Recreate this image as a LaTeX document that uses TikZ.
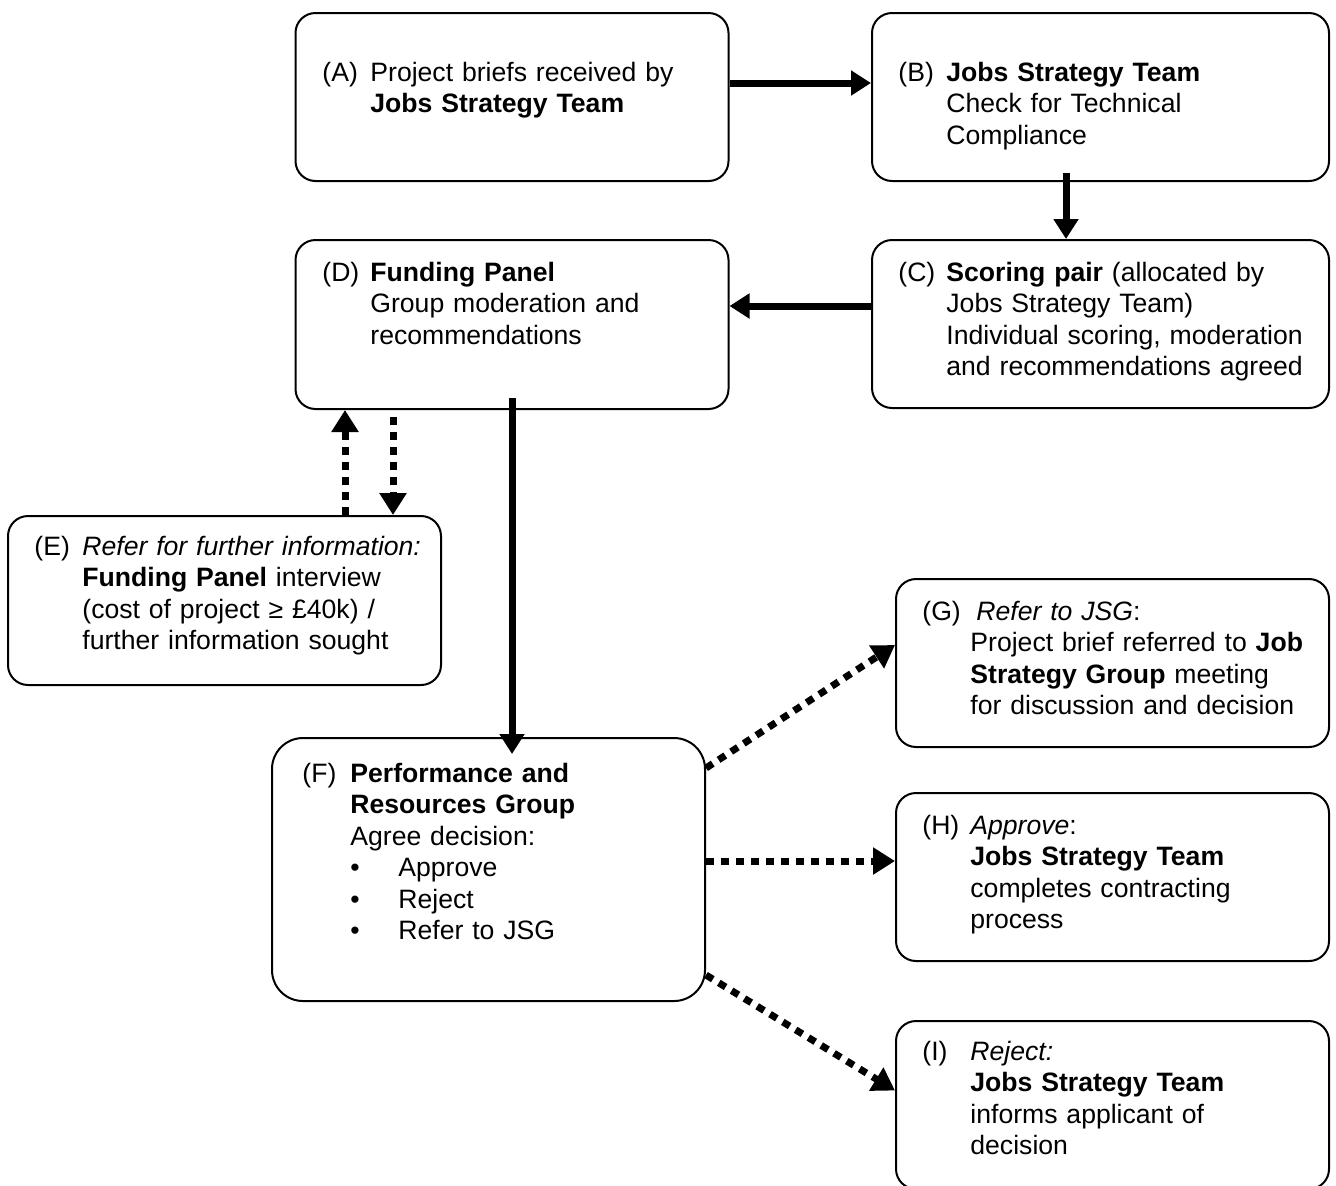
\documentclass[tikz,border=0pt]{standalone}
\usepackage{fontspec}
\setmainfont{Liberation Sans}
\usetikzlibrary{arrows.meta,calc}

\begin{document}
\begin{tikzpicture}[x=0.5pt, y=-0.5pt,
    box/.style={draw, line width=1pt, rounded corners=10pt, minimum width=216.5pt, minimum height=84pt, inner sep=0pt},
    lbl/.style={anchor=base west, inner sep=0pt, font=\fontsize{13.3}{15.75}\selectfont},
    txt/.style={anchor=base west, inner sep=0pt, text width=200pt, align=left, font=\fontsize{13.3}{15.75}\selectfont},
    solidarrow/.style={line width=3.5pt, -{Triangle[length=10pt,width=12pt]}},
    dotarrow/.style={line width=3.5pt, dash pattern=on 4pt off 3.5pt, -{Triangle[length=11pt,width=13pt]}}
]
\useasboundingbox (0,0) rectangle (1336,1185);

% -------- Cajas --------
\node[box] (A) at (512,97) {};
\node[box, minimum width=228.5pt] (B) at (1100.5,97) {};
\node[box, minimum width=228.5pt] (C) at (1100.5,324) {};
\node[box, minimum height=84.5pt] (D) at (512,324.5) {};
\node[box, minimum height=84.5pt] (E) at (224.5,600.5) {};
\node[box, minimum height=131.5pt, rounded corners=15.5pt] (F) at (488.5,869.5) {};
\node[box] (G) at (1112.5,663) {};
\node[box] (H) at (1112.5,877) {};
\node[box] (I) at (1112.5,1105) {};

% -------- Textos --------
\node[lbl] (lA) at (322,81) {(A)};
\node[txt] (tA) at (370,81) {Project briefs received by\\ \textbf{Jobs Strategy Team}};

\node[lbl] (lB) at (898,81) {(B)};
\node[txt] (tB) at (946,81) {\textbf{Jobs Strategy Team}\\ Check for Technical\\ Compliance};

\node[lbl] (lC) at (898,281) {(C)};
\node[txt] (tC) at (946,281) {\textbf{Scoring pair} (allocated by\\ Jobs Strategy Team)\\ Individual scoring, moderation\\ and recommendations agreed};

\node[lbl] (lD) at (322,281) {(D)};
\node[txt] (tD) at (370,281) {\textbf{Funding Panel}\\ Group moderation and\\ recommendations};

\node[lbl] (lE) at (34,555) {(E)};
\node[txt] (tE) at (82,555) {\textit{Refer for further information:}\\ \textbf{Funding Panel} interview\\ (cost of project ≥ £40k) /\\ further information sought};

\node[lbl] (lF) at (302,782) {(F)};
\node[txt] (tF) at (350,782) {\textbf{Performance and}\\ \textbf{Resources Group}\\ Agree decision:\\
  \makebox[24pt][l]{\textbullet}Approve\\
  \makebox[24pt][l]{\textbullet}Reject\\
  \makebox[24pt][l]{\textbullet}Refer to JSG};

\node[lbl] (lG) at (922,620) {(G)};
\node[txt] (tG) at (970,620) {\hspace*{3pt}\textit{Refer to JSG}:\\ Project brief referred to \textbf{Job}\\ \textbf{Strategy Group} meeting\\ for discussion and decision};

\node[lbl] (lH) at (922,834) {(H)};
\node[txt] (tH) at (970,834) {\textit{Approve}:\\ \textbf{Jobs Strategy Team}\\ completes contracting\\ process};

\node[lbl] (lI) at (922,1060) {(I)};
\node[txt] (tI) at (970,1060) {\textit{Reject:}\\ \textbf{Jobs Strategy Team}\\ informs applicant of\\ decision};

% -------- Flechas --------
\draw[solidarrow] ([yshift=7pt]A.east) -- ([yshift=7pt]B.west);
\draw[solidarrow, shorten <=-4.5pt] ([xshift=-17.25pt]B.south) -- ([xshift=-17.25pt]C.north);
\draw[solidarrow] ([yshift=9pt]C.west) -- ([yshift=9pt]C.west -| D.east);
\draw[solidarrow, shorten <=-6pt, shorten >=-8.5pt] (D.south) -- (D.south |- F.north);

% ida y vuelta con (E)
\draw[dotarrow] ([xshift=-83.5pt]D.south |- E.north) -- ([xshift=-83.5pt]D.south);
\draw[dotarrow, shorten <=3.5pt] ([xshift=-59.5pt]D.south) -- ([xshift=-59.5pt]D.south |- E.north);

% decisiones
\draw[dotarrow] ([yshift=50.75pt]F.east) -- ([yshift=9pt]G.west);
\draw[dotarrow] ([yshift=4.25pt]F.east) -- ([yshift=8pt]H.west);
\draw[dotarrow] ([yshift=-52.75pt]F.east) -- ([yshift=7.25pt]I.west);
\end{tikzpicture}
\end{document}
